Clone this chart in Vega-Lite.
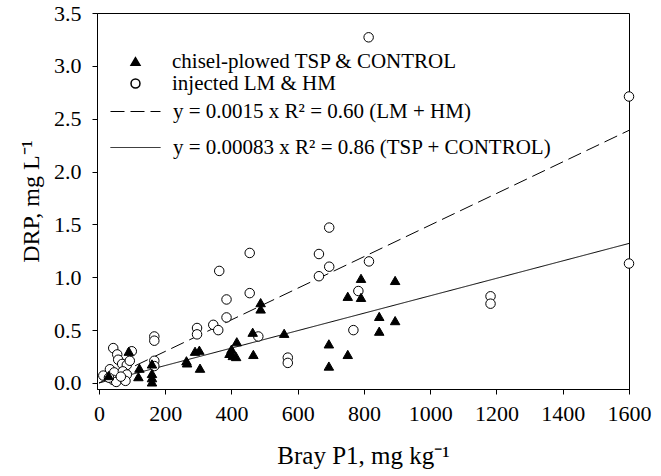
{
  "$schema": "https://vega.github.io/schema/vega-lite/v6.json",
  "width": 532,
  "height": 376,
  "autosize": {"type": "none"},
  "padding": {"left": 97, "top": 13, "right": 32, "bottom": 87},
  "background": "white",
  "config": {
    "font": "Liberation Serif",
    "view": {"stroke": "black", "strokeWidth": 1},
    "axis": {
      "grid": false,
      "domainColor": "black",
      "tickColor": "black",
      "labelColor": "black",
      "titleColor": "black",
      "labelFont": "Liberation Serif",
      "titleFont": "Liberation Serif",
      "labelFontSize": 22,
      "titleFontSize": 24,
      "titleFontWeight": "normal",
      "tickSize": 5,
      "domainWidth": 1,
      "tickWidth": 1
    },
    "legend": {
      "labelFont": "Liberation Serif",
      "labelFontSize": 21,
      "labelColor": "black",
      "labelLimit": 600,
      "padding": 0
    }
  },
  "datasets": {
    "lines": [
      {"x": 0, "y": 0, "fit": "y = 0.0015 x R² = 0.60 (LM + HM)"},
      {"x": 1600, "y": 2.39, "fit": "y = 0.0015 x R² = 0.60 (LM + HM)"},
      {"x": 0, "y": 0, "fit": "y = 0.00083 x R² = 0.86 (TSP + CONTROL)"},
      {"x": 1600, "y": 1.32, "fit": "y = 0.00083 x R² = 0.86 (TSP + CONTROL)"}
    ],
    "pts": [
      {"x": 13, "y": 0.07, "g": "injected LM & HM"},
      {"x": 33, "y": 0.13, "g": "injected LM & HM"},
      {"x": 43, "y": 0.33, "g": "injected LM & HM"},
      {"x": 55, "y": 0.27, "g": "injected LM & HM"},
      {"x": 58, "y": 0.22, "g": "injected LM & HM"},
      {"x": 70, "y": 0.18, "g": "injected LM & HM"},
      {"x": 84, "y": 0.17, "g": "injected LM & HM"},
      {"x": 46, "y": 0.10, "g": "injected LM & HM"},
      {"x": 72, "y": 0.11, "g": "injected LM & HM"},
      {"x": 84, "y": 0.08, "g": "injected LM & HM"},
      {"x": 93, "y": 0.21, "g": "injected LM & HM"},
      {"x": 99, "y": 0.30, "g": "injected LM & HM"},
      {"x": 42, "y": 0.03, "g": "injected LM & HM"},
      {"x": 52, "y": 0.01, "g": "injected LM & HM"},
      {"x": 80, "y": 0.02, "g": "injected LM & HM"},
      {"x": 66, "y": 0.06, "g": "injected LM & HM"},
      {"x": 30, "y": 0.05, "g": "injected LM & HM"},
      {"x": 167, "y": 0.44, "g": "injected LM & HM"},
      {"x": 167, "y": 0.40, "g": "injected LM & HM"},
      {"x": 167, "y": 0.21, "g": "injected LM & HM"},
      {"x": 167, "y": 0.16, "g": "injected LM & HM"},
      {"x": 296, "y": 0.52, "g": "injected LM & HM"},
      {"x": 296, "y": 0.46, "g": "injected LM & HM"},
      {"x": 345, "y": 0.55, "g": "injected LM & HM"},
      {"x": 360, "y": 0.50, "g": "injected LM & HM"},
      {"x": 363, "y": 1.06, "g": "injected LM & HM"},
      {"x": 385, "y": 0.79, "g": "injected LM & HM"},
      {"x": 385, "y": 0.62, "g": "injected LM & HM"},
      {"x": 455, "y": 1.23, "g": "injected LM & HM"},
      {"x": 455, "y": 0.85, "g": "injected LM & HM"},
      {"x": 481, "y": 0.44, "g": "injected LM & HM"},
      {"x": 570, "y": 0.24, "g": "injected LM & HM"},
      {"x": 570, "y": 0.19, "g": "injected LM & HM"},
      {"x": 664, "y": 1.22, "g": "injected LM & HM"},
      {"x": 664, "y": 1.01, "g": "injected LM & HM"},
      {"x": 695, "y": 1.47, "g": "injected LM & HM"},
      {"x": 695, "y": 1.10, "g": "injected LM & HM"},
      {"x": 768, "y": 0.50, "g": "injected LM & HM"},
      {"x": 783, "y": 0.87, "g": "injected LM & HM"},
      {"x": 815, "y": 1.15, "g": "injected LM & HM"},
      {"x": 814, "y": 3.27, "g": "injected LM & HM"},
      {"x": 1182, "y": 0.82, "g": "injected LM & HM"},
      {"x": 1182, "y": 0.75, "g": "injected LM & HM"},
      {"x": 1600, "y": 2.71, "g": "injected LM & HM"},
      {"x": 1600, "y": 1.13, "g": "injected LM & HM"},
      {"x": 29, "y": 0.07, "g": "chisel-plowed TSP & CONTROL"},
      {"x": 90, "y": 0.30, "g": "chisel-plowed TSP & CONTROL"},
      {"x": 122, "y": 0.14, "g": "chisel-plowed TSP & CONTROL"},
      {"x": 119, "y": 0.06, "g": "chisel-plowed TSP & CONTROL"},
      {"x": 160, "y": 0.18, "g": "chisel-plowed TSP & CONTROL"},
      {"x": 160, "y": 0.09, "g": "chisel-plowed TSP & CONTROL"},
      {"x": 160, "y": 0.05, "g": "chisel-plowed TSP & CONTROL"},
      {"x": 160, "y": 0.01, "g": "chisel-plowed TSP & CONTROL"},
      {"x": 264, "y": 0.21, "g": "chisel-plowed TSP & CONTROL"},
      {"x": 266, "y": 0.19, "g": "chisel-plowed TSP & CONTROL"},
      {"x": 290, "y": 0.30, "g": "chisel-plowed TSP & CONTROL"},
      {"x": 303, "y": 0.31, "g": "chisel-plowed TSP & CONTROL"},
      {"x": 305, "y": 0.14, "g": "chisel-plowed TSP & CONTROL"},
      {"x": 400, "y": 0.32, "g": "chisel-plowed TSP & CONTROL"},
      {"x": 394, "y": 0.28, "g": "chisel-plowed TSP & CONTROL"},
      {"x": 404, "y": 0.26, "g": "chisel-plowed TSP & CONTROL"},
      {"x": 414, "y": 0.25, "g": "chisel-plowed TSP & CONTROL"},
      {"x": 416, "y": 0.39, "g": "chisel-plowed TSP & CONTROL"},
      {"x": 466, "y": 0.27, "g": "chisel-plowed TSP & CONTROL"},
      {"x": 464, "y": 0.48, "g": "chisel-plowed TSP & CONTROL"},
      {"x": 488, "y": 0.76, "g": "chisel-plowed TSP & CONTROL"},
      {"x": 488, "y": 0.70, "g": "chisel-plowed TSP & CONTROL"},
      {"x": 559, "y": 0.47, "g": "chisel-plowed TSP & CONTROL"},
      {"x": 694, "y": 0.37, "g": "chisel-plowed TSP & CONTROL"},
      {"x": 694, "y": 0.16, "g": "chisel-plowed TSP & CONTROL"},
      {"x": 751, "y": 0.27, "g": "chisel-plowed TSP & CONTROL"},
      {"x": 751, "y": 0.82, "g": "chisel-plowed TSP & CONTROL"},
      {"x": 791, "y": 0.99, "g": "chisel-plowed TSP & CONTROL"},
      {"x": 791, "y": 0.81, "g": "chisel-plowed TSP & CONTROL"},
      {"x": 846, "y": 0.63, "g": "chisel-plowed TSP & CONTROL"},
      {"x": 846, "y": 0.49, "g": "chisel-plowed TSP & CONTROL"},
      {"x": 894, "y": 0.97, "g": "chisel-plowed TSP & CONTROL"},
      {"x": 894, "y": 0.59, "g": "chisel-plowed TSP & CONTROL"}
    ]
  },
  "layer": [
    {
      "data": {"name": "lines"},
      "mark": {"type": "line", "color": "black", "strokeWidth": 1},
      "encoding": {
        "x": {"field": "x", "type": "quantitative", "scale": {"domain": [-6, 1600], "nice": false, "zero": false},
          "axis": {"values": [0, 200, 400, 600, 800, 1000, 1200, 1400, 1600], "format": "d", "title": "Bray P1, mg kg⁻¹", "titleFontSize": 25, "labelPadding": 9, "titlePadding": 19, "labelFlush": false, "labelOverlap": false}},
        "y": {"field": "y", "type": "quantitative", "scale": {"domain": [-0.057, 3.5], "nice": false, "zero": false},
          "axis": {"values": [0, 0.5, 1, 1.5, 2, 2.5, 3, 3.5], "format": ".1f", "title": "DRP, mg L⁻¹", "labelPadding": 11, "titlePadding": 10, "labelFlush": false, "labelOverlap": false}},
        "strokeDash": {"field": "fit", "type": "nominal",
          "scale": {"domain": ["y = 0.0015 x R² = 0.60 (LM + HM)", "y = 0.00083 x R² = 0.86 (TSP + CONTROL)"], "range": [[14, 6], [1, 0]]},
          "legend": {"title": null, "orient": "none", "legendX": 13, "legendY": 73, "symbolType": "stroke", "symbolSize": 2500, "symbolStrokeColor": "black", "symbolStrokeWidth": 1, "labelOffset": 12, "rowPadding": -3}}
      }
    },
    {
      "data": {"name": "pts"},
      "mark": {"type": "point", "filled": true, "stroke": "black", "strokeWidth": 1, "opacity": 1, "size": 90},
      "encoding": {
        "x": {"field": "x", "type": "quantitative"},
        "y": {"field": "y", "type": "quantitative"},
        "shape": {"field": "g", "type": "nominal",
          "scale": {"domain": ["chisel-plowed TSP & CONTROL", "injected LM & HM"], "range": ["triangle-up", "circle"]},
          "legend": {"title": null, "orient": "none", "legendX": 28, "legendY": 38, "symbolSize": 80, "labelOffset": 26, "rowPadding": 0,
            "encode": {"symbols": {"update": {"stroke": {"value": "black"}, "strokeWidth": {"value": 1}}}}}},
        "fill": {"field": "g", "type": "nominal",
          "scale": {"domain": ["chisel-plowed TSP & CONTROL", "injected LM & HM"], "range": ["black", "white"]},
          "legend": {"title": null, "orient": "none", "legendX": 28, "legendY": 38, "symbolSize": 80, "labelOffset": 26, "rowPadding": 0,
            "encode": {"symbols": {"update": {"stroke": {"value": "black"}, "strokeWidth": {"value": 1}}}}}}
      }
    }
  ]
}
